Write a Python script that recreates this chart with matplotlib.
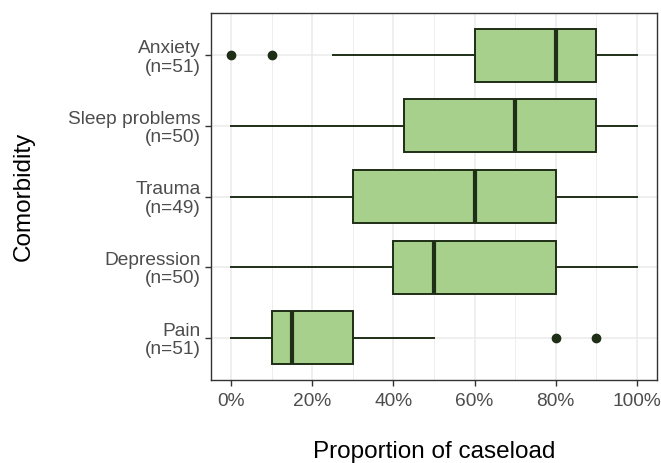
import matplotlib
matplotlib.use("Agg")
import matplotlib.pyplot as plt
from matplotlib.ticker import FuncFormatter, MultipleLocator

categories = ["Pain", "Depression", "Trauma", "Sleep problems", "Anxiety"]
counts = [51, 50, 49, 50, 51]
whislo = [0, 0, 0, 0, 25]
q1 = [10, 40, 30, 42.5, 60]
med = [15, 50, 60, 70, 80]
q3 = [30, 80, 80, 90, 90]
whishi = [50, 100, 100, 100, 100]
fliers = [[80, 90], [], [], [], [0, 10]]
xticks = [0, 20, 40, 60, 80, 100]

fill = "#A8D08D"
edge = "#1F2E16"

plt.rcParams['font.family'] = ['Liberation Sans', 'DejaVu Sans']
fig = plt.figure(figsize=(6.61, 4.63), dpi=100)
ax = fig.add_axes([211/661, 1-380/463, (657-211)/661, (380-13)/463])

stats = []
for i in range(len(categories)):
    stats.append(dict(whislo=whislo[i], q1=q1[i], med=med[i], q3=q3[i],
                      whishi=whishi[i], fliers=fliers[i]))

ax.bxp(stats, positions=range(1, len(categories)+1), vert=False, widths=0.75,
       patch_artist=True, showcaps=False,
       boxprops=dict(facecolor=fill, edgecolor=edge, linewidth=1.4),
       medianprops=dict(color=edge, linewidth=3),
       whiskerprops=dict(color=edge, linewidth=1.4),
       flierprops=dict(marker='o', markerfacecolor=edge, markeredgecolor=edge,
                       markersize=6), zorder=3)

ax.set_xlim(-5, 105)
ax.set_ylim(0.4, 5.6)
ax.set_xticks(xticks)
ax.xaxis.set_minor_locator(MultipleLocator(10))
ax.xaxis.set_major_formatter(FuncFormatter(lambda v, p: f"{v:.0f}%"))
ax.set_yticks(range(1, len(categories)+1))
ax.set_yticklabels([f"{c}\n(n={n})" for c, n in zip(categories, counts)],
                   linespacing=1.1)

ax.grid(which='major', color='#EBEBEB', linewidth=1.1, zorder=0)
ax.grid(which='minor', axis='x', color='#EBEBEB', linewidth=0.6, zorder=0)
ax.set_axisbelow(True)
for s in ax.spines.values():
    s.set_color('#333333')
    s.set_linewidth(1.0)
ax.tick_params(axis='both', which='major', colors='#333333', labelcolor='#4D4D4D',
               labelsize=13.8, length=4, width=1.0)
ax.tick_params(axis='x', which='major', pad=5)
ax.tick_params(axis='x', which='minor', length=0)

ax.set_xlabel("Proportion of caseload", fontsize=17.5, color='black', labelpad=23)
ax.set_ylabel("Comorbidity", fontsize=17.5, color='black', labelpad=24)

fig.savefig("out.png", dpi=100)
